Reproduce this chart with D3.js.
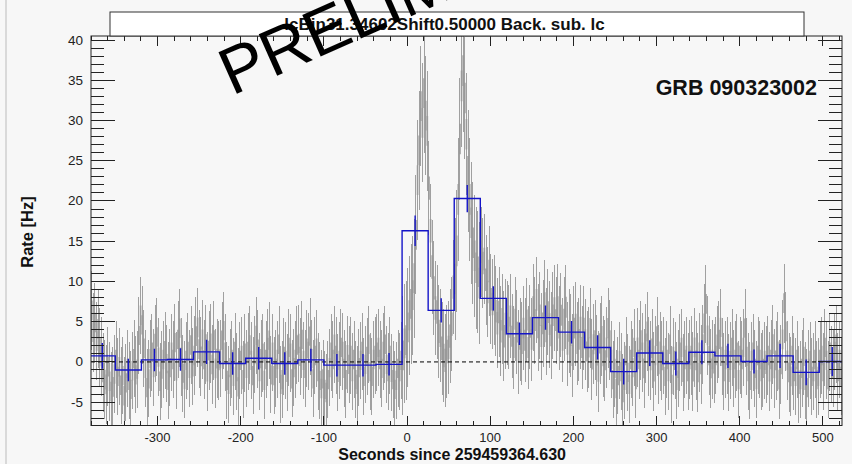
<!DOCTYPE html>
<html>
  <head>
    <style>
      body { margin: 0; background: #f7f7f7; }
      svg { display: block; font-family: "Liberation Sans", Arial, Helvetica, sans-serif; }
    </style>
  </head>
  <body>
    <svg id="chart"></svg>

    <script src="https://d3js.org/d3.v7.min.js"></script>
    <script>
      // coarse (blue) binning
      var binStart = -382.1;
      var binWidth = 31.34602;
      var subBins = 16;

      var rateBlue = [0.75, -1.0, 0.25, 0.3, 1.25, -0.2, 0.45, -0.2, 0.25, -0.4, -0.4, -0.3,
        16.3, 6.4, 20.3, 7.9, 3.5, 5.5, 3.7, 1.8, -1.2, 1.1, -0.2, 1.2, 0.75, 0.05, 0.75, -1.3, 0.05];
      var errBlue = [1.6, 1.4, 1.4, 1.4, 1.5, 1.4, 1.4, 1.4, 1.4, 1.4, 1.4, 1.4,
        1.9, 1.5, 1.7, 1.5, 1.4, 1.5, 1.4, 1.5, 1.6, 1.6, 1.5, 1.5, 1.5, 1.5, 1.5, 1.6, 1.8];

      // fine (gray) light curve, 16 sub-bins per blue bin
      var rateGray = [
        5.2, 6.4, 3.7, 4.9, 2.6, 4.1, 1.8, 0.7, -1.3, -2.2, -2.8, -0.6, -2.4, -3.7, -3.1, -1.5,
        0.3, -1.8, -0.6, -2.9, -1.7, -4.2, -2.6, -0.8, -2.3, -3.4, -1.1, 0.4, -1.6, -0.9, 3.3, 5.8,
        4.6, 1.7, -0.8, -3.2, -2.1, 0.4, 1.2, -0.7, 2.3, 3.1, 0.6, -2.4, -0.9, 0.3, 1.4, -0.2,
        -2.3, -0.7, 1.2, 0.3, 2.4, -1.1, 2.8, 4.2, 0.6, -1.4, -2.2, 0.2, 1.3, -0.8, 2.1, -0.6,
        0.8, 3.2, 4.3, 1.6, 0.7, 2.8, 0.3, 2.2, -1.2, 1.4, 2.3, -0.3, 2.7, -0.8, 0.4, 0.2,
        0.4, 2.7, 3.9, 1.2, -2.3, -2.8, -0.7, 0.3, -1.8, 1.3, -1.2, -3.1, 0.2, 0.8, -2.2, 1.1,
        -0.8, 1.3, 2.1, 0.2, -1.7, 0.9, 3.3, 1.6, -1.2, 0.4, 1.1, -2.3, 0.3, 1.8, 2.7, -1.6,
        1.2, -1.7, -0.8, 0.3, 2.2, -2.8, -2.2, 0.7, 0.2, -1.3, 1.8, 1.1, -2.1, -0.7, 0.3, 2.1,
        2.3, 0.7, 2.8, 0.2, -0.8, 1.7, 1.3, 3.2, 0.4, -2.1, 0.8, 1.7, -1.2, -2.3, -3.3, -2.1,
        -3.4, -3.8, -2.2, -0.7, 1.2, 0.3, 2.2, 0.8, -1.3, 0.2, 1.8, 1.3, -0.8, -2.2, 0.9, -0.3,
        0.8, -1.2, 0.3, -2.2, -2.8, -0.7, 0.2, 1.3, -1.8, -0.3, 0.7, 2.2, -1.2, -1.8, 0.3, 0.8,
        1.2, 1.8, 0.3, -0.8, 1.3, 2.2, -0.3, -1.2, 0.8, -1.3, -2.2, -3.4, -2.3, -0.8, -1.2, 0.2,
        0.8, 2.3, 2.7, 4.3, 5.8, 7.2, 8.3, 10.4, 15.8, 22.6, 26.3, 31.8, 29.7, 33.4, 30.6, 28.7,
        21.6, 16.3, 11.8, 9.2, 6.7, 6.2, 3.8, 3.3, 1.7, 0.8, 0.2, 1.3, 1.8, 3.2, 4.7, 9.3,
        10.3, 13.8, 20.2, 27.7, 34.3, 36.2, 32.8, 28.3, 23.7, 20.2, 17.3, 14.8, 13.2, 11.7, 11.2, 9.8,
        13.7, 12.3, 12.8, 10.2, 8.7, 11.3, 7.8, 7.2, 7.7, 6.3, 4.8, 6.2, 3.8, 5.3, 3.2, 4.7,
        4.8, 4.3, 5.7, 3.2, 1.8, 5.3, 3.7, 1.2, 2.8, 2.3, 4.2, 2.7, 5.2, 1.8, 4.3, 2.8,
        6.8, 5.2, 7.7, 4.3, 5.8, 3.2, 4.8, 7.3, 3.8, 6.2, 4.7, 3.3, 5.8, 6.7, 5.2, 6.8,
        4.2, 5.8, 2.7, 5.3, 6.8, 2.2, 3.8, 3.3, 0.8, 4.2, 4.7, 2.3, 2.8, 4.3, 1.8, 4.2,
        2.8, 1.3, 1.8, 4.2, 0.3, 2.2, 2.7, 0.8, -1.2, 2.3, 3.2, 0.7, 0.2, 1.8, 4.2, 2.7,
        0.3, -2.2, -0.8, -3.3, -1.7, 0.2, -1.2, -3.8, -2.3, 0.8, -1.3, -2.8, 0.3, -0.7, 1.8, -2.2,
        1.8, 0.3, 2.7, 1.2, -0.8, 2.3, 3.8, 0.7, 0.2, 1.7, -1.2, 0.8, 3.2, -0.3, 1.3, 0.2,
        0.8, -1.8, 0.3, -1.2, 2.2, -2.8, 0.7, 0.2, -2.3, -0.8, 1.2, 1.8, -1.3, 0.3, 0.8, -1.2,
        0.3, 0.8, -1.2, 1.8, 0.2, -1.3, 1.2, -0.3, 2.2, 4.8, 7.2, 3.3, 0.8, -0.8, 0.3, -0.2,
        0.8, 2.2, 2.8, 4.3, 0.7, -1.2, 0.3, 0.8, -1.3, 0.2, 1.8, -0.8, 0.3, 1.2, -2.2, 0.8,
        0.3, 1.8, 4.2, 0.7, -1.2, -2.3, 0.2, 1.2, -0.8, -2.2, 0.8, 0.3, -1.2, -0.8, 0.2, -0.3,
        0.8, -1.2, 0.3, 2.2, -0.8, 0.2, 1.3, -2.2, -0.3, 2.8, 7.3, 3.8, 0.2, -1.3, -1.8, 0.8,
        -1.2, -1.8, 0.3, -2.8, -2.2, -0.8, 0.7, -2.3, -3.2, -0.8, 0.2, -1.8, -1.2, 0.3, -2.2, -1.8,
        0.3, 0.8, -1.2, 1.8, 0.2, -2.2, 1.2, -0.3, -0.8, 1.3, 2.2, -1.2, 0.3, -1.8, 0.8, -1.2
      ];
      // gray error level for each blue bin
      var errGray = [4.9, 4.8, 4.8, 4.8, 4.9, 4.8, 4.8, 4.8, 4.8, 4.8, 4.8, 4.8,
        7.4, 5.8, 7.6, 5.6, 5.2, 5.4, 5.2, 5.0, 4.8, 4.9, 4.8, 4.9, 4.8, 4.8, 4.9, 4.8, 4.8];

      var xTicks = [-300, -200, -100, 0, 100, 200, 300, 400, 500];
      var yTicks = [-5, 0, 5, 10, 15, 20, 25, 30, 35, 40];

      var titleText = "lcBin31.34602Shift0.50000 Back. sub. lc";
      var grbText = "GRB 090323002";
      var xTitle = "Seconds since 259459364.630";
      var yTitle = "Rate [Hz]";

      var W = 852, H = 464;
      var pL = 91, pR = 842, pT = 36, pB = 425.5;

      var x = d3.scaleLinear().domain([-380, 523]).range([pL, pR]);
      var y = d3.scaleLinear().domain([-7.9, 40.5]).range([pB, pT]);

      var svg = d3.select("#chart").attr("width", W).attr("height", H);

      svg.append("rect").attr("width", W).attr("height", H).attr("fill", "#f7f7f7");
      svg.append("line")
        .attr("x1", 6).attr("x2", 6).attr("y1", 0).attr("y2", H)
        .attr("stroke", "#cfcfcf").attr("stroke-width", 1.5);

      svg.append("clipPath").attr("id", "plotclip")
        .append("rect")
        .attr("x", pL).attr("y", pT)
        .attr("width", pR - pL).attr("height", pB - pT);

      var plot = svg.append("g").attr("clip-path", "url(#plotclip)");

      // gray fine light curve
      var fineW = binWidth / subBins;
      var gray = rateGray.map(function (v, i) {
        var lo = binStart + i * fineW;
        return { lo: lo, hi: lo + fineW, mid: lo + fineW / 2, v: v, e: errGray[Math.floor(i / subBins)] };
      });

      var g = plot.append("g");

      // full error bars
      g.selectAll(".ev").data(gray).enter().append("line")
        .attr("x1", function (d) { return x(d.mid); })
        .attr("x2", function (d) { return x(d.mid); })
        .attr("y1", function (d) { return y(d.v - d.e); })
        .attr("y2", function (d) { return y(d.v + d.e); })
        .attr("stroke", "#a0a0a0")
        .attr("stroke-width", 1)
        .attr("shape-rendering", "crispEdges");

      // denser core around each value
      g.selectAll(".ec").data(gray).enter().append("line")
        .attr("x1", function (d) { return x(d.mid); })
        .attr("x2", function (d) { return x(d.mid); })
        .attr("y1", function (d) { return y(d.v - 0.25 * d.e); })
        .attr("y2", function (d) { return y(d.v + 0.25 * d.e); })
        .attr("stroke", "#999")
        .attr("stroke-width", 1.6);

      // zero line
      plot.append("line")
        .attr("x1", pL).attr("x2", pR)
        .attr("y1", y(0)).attr("y2", y(0))
        .attr("stroke", "#000").attr("stroke-width", 1)
        .attr("stroke-dasharray", "4,3");

      // blue histogram
      var steps = rateBlue.map(function (v, i) { return [binStart + i * binWidth, v]; });
      steps.push([binStart + rateBlue.length * binWidth, rateBlue[rateBlue.length - 1]]);

      plot.append("path")
        .datum(steps)
        .attr("fill", "none")
        .attr("stroke", "#1414c8")
        .attr("stroke-width", 1.4)
        .attr("d", d3.line()
          .x(function (d) { return x(d[0]); })
          .y(function (d) { return y(d[1]); })
          .curve(d3.curveStepAfter));

      plot.selectAll(".be").data(rateBlue).enter().append("line")
        .attr("x1", function (d, i) { return x(binStart + (i + 0.5) * binWidth); })
        .attr("x2", function (d, i) { return x(binStart + (i + 0.5) * binWidth); })
        .attr("y1", function (d, i) { return y(d - errBlue[i]); })
        .attr("y2", function (d, i) { return y(d + errBlue[i]); })
        .attr("stroke", "#1414c8")
        .attr("stroke-width", 1.4);

      // frame
      svg.append("rect")
        .attr("x", pL).attr("y", pT)
        .attr("width", pR - pL).attr("height", pB - pT)
        .attr("fill", "none").attr("stroke", "#222").attr("stroke-width", 1);

      // ticks
      var ax = svg.append("g").attr("stroke", "#222").attr("stroke-width", 1)
        .attr("shape-rendering", "crispEdges");
      var xMinor = d3.range(-380, 524, 20);
      ax.selectAll(".xb").data(xMinor).enter().append("line")
        .attr("x1", function (d) { return x(d); }).attr("x2", function (d) { return x(d); })
        .attr("y1", pB)
        .attr("y2", function (d) { return pB - (d % 100 === 0 ? 10 : 5); });
      ax.selectAll(".xt").data(xMinor).enter().append("line")
        .attr("x1", function (d) { return x(d); }).attr("x2", function (d) { return x(d); })
        .attr("y1", pT)
        .attr("y2", function (d) { return pT + (d % 100 === 0 ? 10 : 5); });
      var yMinor = d3.range(-7, 41, 1);
      ax.selectAll(".yl").data(yMinor).enter().append("line")
        .attr("y1", function (d) { return y(d); }).attr("y2", function (d) { return y(d); })
        .attr("x1", pL)
        .attr("x2", function (d) { return pL + (d % 5 === 0 ? 24 : 13); });
      ax.selectAll(".yr").data(yMinor).enter().append("line")
        .attr("y1", function (d) { return y(d); }).attr("y2", function (d) { return y(d); })
        .attr("x1", pR)
        .attr("x2", function (d) { return pR - (d % 5 === 0 ? 24 : 13); });

      // tick labels
      svg.selectAll(".xl").data(xTicks).enter().append("text")
        .attr("x", function (d) { return x(d); })
        .attr("y", 442)
        .attr("text-anchor", "middle")
        .attr("font-size", 13)
        .attr("fill", "#222")
        .text(function (d) { return d; });

      svg.selectAll(".yll").data(yTicks).enter().append("text")
        .attr("x", 83)
        .attr("y", function (d) { return y(d) + 4.5; })
        .attr("text-anchor", "end")
        .attr("font-size", 13.5)
        .attr("fill", "#222")
        .text(function (d) { return d; });

      // axis titles
      svg.append("text")
        .attr("x", 566).attr("y", 460)
        .attr("text-anchor", "end")
        .attr("font-size", 16).attr("font-weight", "bold")
        .attr("fill", "#111")
        .text(xTitle);

      svg.append("text")
        .attr("transform", "translate(33,232) rotate(-90)")
        .attr("text-anchor", "middle")
        .attr("font-size", 16.5).attr("font-weight", "bold")
        .attr("fill", "#111")
        .text(yTitle);

      // title box
      svg.append("rect")
        .attr("x", 110).attr("y", 12)
        .attr("width", 694).attr("height", 24)
        .attr("fill", "#fff").attr("stroke", "#333").attr("stroke-width", 1);
      svg.append("text")
        .attr("x", 444.5).attr("y", 30)
        .attr("text-anchor", "middle")
        .attr("font-size", 17).attr("font-weight", "bold")
        .attr("fill", "#111")
        .text(titleText);

      svg.append("text")
        .attr("x", 817).attr("y", 95)
        .attr("text-anchor", "end")
        .attr("font-size", 21.5).attr("font-weight", "bold")
        .attr("fill", "#111")
        .text(grbText);

      // watermark
      svg.append("text")
        .attr("transform", "translate(232,96) rotate(-24)")
        .attr("font-size", 66)
        .attr("fill", "#000")
        .text("PRELIMINARY");
    </script>
  </body>
</html>
